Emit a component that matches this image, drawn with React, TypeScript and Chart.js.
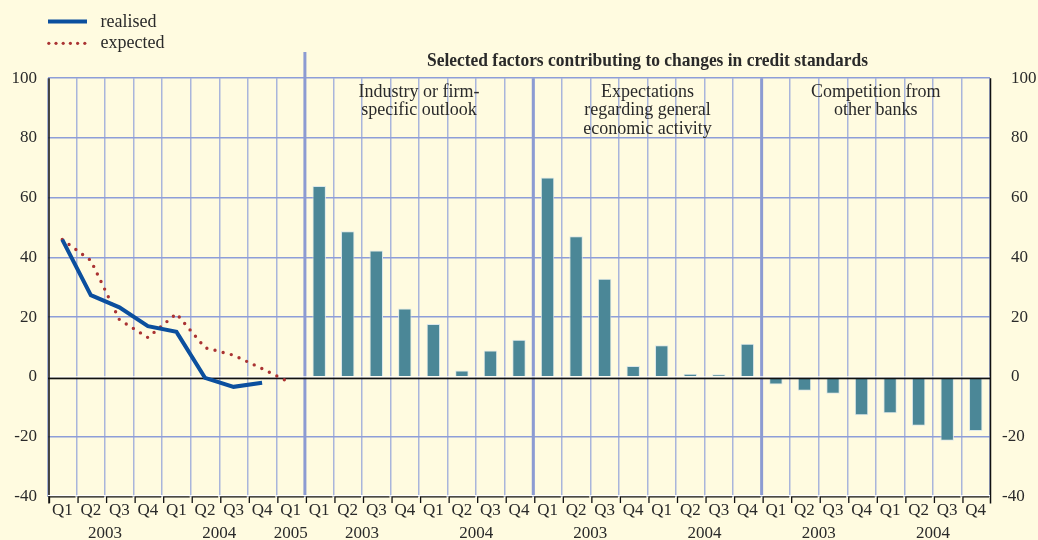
import React, { useEffect, useRef } from "react";
import { Chart, registerables } from "chart.js";

Chart.register(...registerables);

// ---------- data ----------
const quarterLabels = [
  "Q1", "Q2", "Q3", "Q4", "Q1", "Q2", "Q3", "Q4", "Q1",
  "Q1", "Q2", "Q3", "Q4", "Q1", "Q2", "Q3", "Q4",
  "Q1", "Q2", "Q3", "Q4", "Q1", "Q2", "Q3", "Q4",
  "Q1", "Q2", "Q3", "Q4", "Q1", "Q2", "Q3", "Q4",
];

const realised = [46, 27.4, 23.3, 17, 15.1, -0.3, -3.3, -1.9, null];
const expected = [46, 39, 19.2, 13.2, 21.2, 9.8, 7.3, 2.8, -2];

const industryOutlook = [63.9, 48.8, 42.3, 22.9, 17.7, 2.2, 8.9, 12.5];
const economicActivity = [66.8, 47.1, 32.9, 3.7, 10.6, 1.1, 0.9, 11.1];
const competition = [-2.5, -4.6, -5.6, -12.8, -12.1, -16.3, -21.3, -18.1];

const yearLabels = ["2003", "2004", "2005", "2003", "2004", "2003", "2004", "2003", "2004"];
const yearStarts = [0, 4, 8, 9, 13, 17, 21, 25, 29];
const yearSpans = [4, 4, 1, 4, 4, 4, 4, 4, 4];

const panelStarts = [9, 17, 25];
const panelTitles = [
  ["Industry or firm-", "specific outlook"],
  ["Expectations", "regarding general", "economic activity"],
  ["Competition from", "other banks"],
];
const mainTitle = "Selected factors contributing to changes in credit standards";
const legendLabels = ["realised", "expected"];

const yMin = -40;
const yMax = 100;
const yStep = 20;

// ---------- styles ----------
const FONT = '"Liberation Serif", "Times New Roman", serif';
const BG = "#fffbe0";
const TEXT = "#2a2a2a";
const BAR = "#4b8797";
const BLUE = "#0b4f9e";
const RED = "#aa3333";
const HGRID = "#8e9ed8";
const VGRID = "#a9b5db";
const SEP = "#8c9bd2";

const leftPanelCount = realised.length;
const tail = (n: number) => Array(n).fill(null);
const barData = [
  ...tail(leftPanelCount),
  ...industryOutlook,
  ...economicActivity,
  ...competition,
];

const overlayPlugin = {
  id: "overlay",
  beforeDraw(chart: any) {
    const { ctx, width, height } = chart;
    ctx.save();
    ctx.fillStyle = BG;
    ctx.fillRect(0, 0, width, height);
    ctx.restore();
  },
  beforeDatasetsDraw(chart: any) {
    const { ctx, chartArea, scales } = chart;
    const x = scales.x;
    const half = (x.getPixelForValue(1) - x.getPixelForValue(0)) / 2;
    ctx.save();
    ctx.strokeStyle = SEP;
    ctx.lineWidth = 3;
    panelStarts.forEach((s, i) => {
      const px = x.getPixelForValue(s) - half;
      ctx.beginPath();
      ctx.moveTo(px, i === 0 ? 52 : chartArea.top);
      ctx.lineTo(px, chartArea.bottom);
      ctx.stroke();
    });
    ctx.restore();
  },
  afterDatasetDraw(chart: any, args: any) {
    if (args.meta.type !== "bar") return;
    const { ctx, chartArea, scales } = chart;
    const y0 = scales.y.getPixelForValue(0);
    ctx.save();
    ctx.fillStyle = "#ffffff";
    ctx.fillRect(chartArea.left, y0 - 0.7, chartArea.right - chartArea.left, 1.3);
    ctx.fillStyle = "#111111";
    ctx.fillRect(chartArea.left, y0 + 0.6, chartArea.right - chartArea.left, 1.7);
    ctx.restore();
  },
  afterDraw(chart: any) {
    const { ctx, chartArea, scales } = chart;
    const x = scales.x;
    const y = scales.y;
    const half = (x.getPixelForValue(1) - x.getPixelForValue(0)) / 2;
    const bottom = chartArea.bottom;
    ctx.save();

    // axis frame
    ctx.strokeStyle = "#111111";
    ctx.lineWidth = 1.5;
    ctx.beginPath();
    ctx.moveTo(chartArea.left + 1, chartArea.top);
    ctx.lineTo(chartArea.left + 1, bottom + 7);
    ctx.moveTo(chartArea.right + 0.5, chartArea.top);
    ctx.lineTo(chartArea.right + 0.5, bottom + 7);
    ctx.stroke();

    // bottom brackets per category
    for (let i = 0; i < quarterLabels.length; i++) {
      const l = x.getPixelForValue(i) - half;
      const r = x.getPixelForValue(i) + half;
      ctx.fillStyle = "#ffffff";
      ctx.fillRect(l, bottom - 1.5, r - l, 1);
      ctx.strokeStyle = "#111111";
      ctx.lineWidth = 1.3;
      ctx.beginPath();
      ctx.moveTo(l + 1.5, bottom + 6.5);
      ctx.lineTo(l + 1.5, bottom + 0.3);
      ctx.lineTo(r - 1, bottom + 0.3);
      ctx.stroke();
    }

    // year labels
    ctx.fillStyle = TEXT;
    ctx.font = `17px ${FONT}`;
    ctx.textAlign = "center";
    ctx.textBaseline = "alphabetic";
    yearLabels.forEach((lab, i) => {
      const a = x.getPixelForValue(yearStarts[i]);
      const b = x.getPixelForValue(yearStarts[i] + yearSpans[i] - 1);
      ctx.fillText(lab, (a + b) / 2, 538);
    });

    // right axis labels
    ctx.textAlign = "left";
    ctx.textBaseline = "middle";
    for (let v = yMin; v <= yMax; v += yStep) {
      const py = y.getPixelForValue(v);
      ctx.fillText(String(v), v < 0 ? 1002 : 1011, py);
    }

    // panel titles
    ctx.font = `18px ${FONT}`;
    ctx.textAlign = "center";
    ctx.textBaseline = "alphabetic";
    panelStarts.forEach((s, i) => {
      const cx = (x.getPixelForValue(s) + x.getPixelForValue(s + 7)) / 2;
      panelTitles[i].forEach((line, j) => {
        ctx.fillText(line, cx, 96.5 + j * 18.5);
      });
    });

    // main title
    ctx.font = `bold 19px ${FONT}`;
    const tw = ctx.measureText(mainTitle).width;
    const targetW = 441;
    const cxTitle = (x.getPixelForValue(panelStarts[0]) - half + chartArea.right) / 2;
    ctx.save();
    ctx.translate(cxTitle, 66);
    ctx.scale(targetW / tw, 1);
    ctx.textAlign = "center";
    ctx.fillText(mainTitle, 0, 0);
    ctx.restore();

    // legend
    ctx.strokeStyle = BLUE;
    ctx.lineWidth = 4;
    ctx.beginPath();
    ctx.moveTo(48, 21.5);
    ctx.lineTo(87, 21.5);
    ctx.stroke();
    ctx.fillStyle = RED;
    for (let k = 0; k < 6; k++) {
      ctx.beginPath();
      ctx.arc(48.8 + k * 7.2, 43.3, 1.6, 0, Math.PI * 2);
      ctx.fill();
    }
    ctx.fillStyle = TEXT;
    ctx.font = `18px ${FONT}`;
    ctx.textAlign = "left";
    ctx.fillText(legendLabels[0], 100.5, 26.7);
    ctx.fillText(legendLabels[1], 100.5, 48);

    ctx.restore();
  },
};

export default function App() {
  const ref = useRef<HTMLCanvasElement | null>(null);

  useEffect(() => {
    if (!ref.current) return;
    const chart = new Chart(ref.current, {
      type: "bar",
      data: {
        labels: quarterLabels,
        datasets: [
          {
            type: "line",
            label: legendLabels[0],
            data: [...realised, ...tail(quarterLabels.length - leftPanelCount)],
            borderColor: BLUE,
            borderWidth: 4,
            pointRadius: 0,
            tension: 0,
            spanGaps: false,
            order: 0,
          } as any,
          {
            type: "line",
            label: legendLabels[1],
            data: [...expected, ...tail(quarterLabels.length - leftPanelCount)],
            borderColor: RED,
            borderWidth: 3.4,
            borderDash: [0, 8.4],
            borderCapStyle: "round",
            pointRadius: 0,
            tension: 0,
            order: 0,
          } as any,
          {
            type: "bar",
            label: "factors",
            data: barData,
            backgroundColor: BAR,
            borderColor: "#dbe7ea",
            borderWidth: 1,
            barPercentage: 0.47,
            categoryPercentage: 1,
            order: 1,
          } as any,
        ],
      },
      options: {
        responsive: false,
        animation: false,
        events: [],
        layout: { padding: { top: 78.2, right: 48, left: 0, bottom: 0 } },
        plugins: {
          legend: { display: false },
          title: { display: false },
          tooltip: { enabled: false },
        },
        scales: {
          x: {
            type: "category",
            offset: true,
            grid: {
              offset: true,
              color: VGRID,
              lineWidth: 1.5,
              drawTicks: false,
            },
            border: { display: false },
            ticks: {
              autoSkip: false,
              maxRotation: 0,
              minRotation: 0,
              padding: 4,
              color: TEXT,
              font: { family: FONT, size: 17 },
            },
            afterFit: (s: any) => {
              s.height = 43.5;
            },
          },
          y: {
            min: yMin,
            max: yMax,
            grid: {
              color: (c: any) =>
                c.tick && (c.tick.value === 0 || c.tick.value === yMin) ? "rgba(0,0,0,0)" : HGRID,
              lineWidth: 1.5,
              drawTicks: false,
            },
            border: { display: false },
            ticks: {
              stepSize: yStep,
              padding: 11,
              color: TEXT,
              font: { family: FONT, size: 17 },
            },
            afterFit: (s: any) => {
              s.width = 48;
            },
          },
        },
      },
      plugins: [overlayPlugin],
    });
    return () => chart.destroy();
  }, []);

  return (
    <div style={{ position: "fixed", left: 0, top: 0, width: 1038, height: 540, background: BG }}>
      <canvas ref={ref} width={1038} height={540} style={{ display: "block" }} />
    </div>
  );
}
